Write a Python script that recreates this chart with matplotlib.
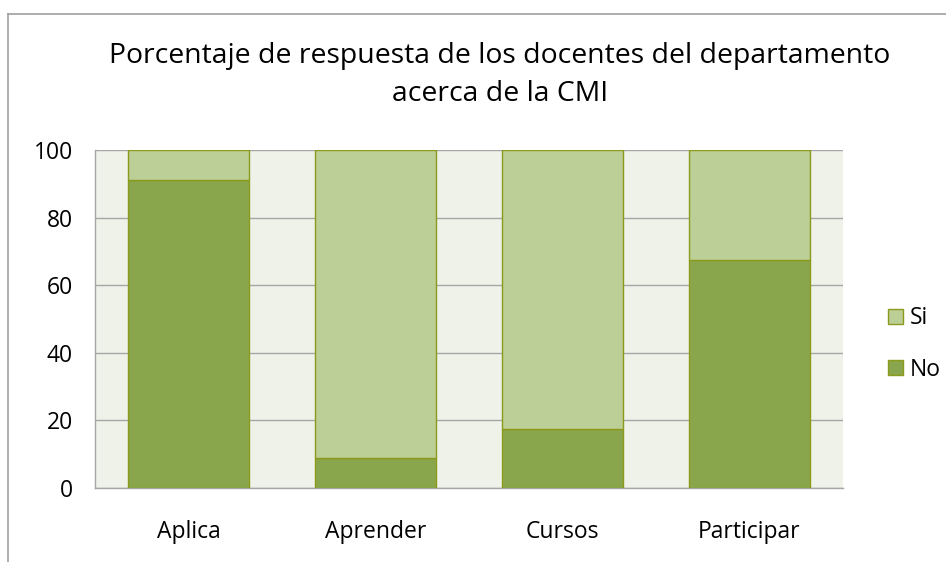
import matplotlib
matplotlib.use("Agg")
import matplotlib.pyplot as plt
from matplotlib.lines import Line2D
from matplotlib.patches import Patch

# data
categories = ["Aplica", "Aprender", "Cursos", "Participar"]
no_vals = [91.2, 8.8, 17.6, 67.6]
si_vals = [100 - v for v in no_vals]
yticks = [0, 20, 40, 60, 80, 100]

plt.rcParams['font.family'] = ['Open Sans', 'DejaVu Sans']

dark = "#8AA64D"
light = "#BBCF97"
edge = "#8C9A1C"
grid = "#A6A6A6"

fig = plt.figure(figsize=(9.46, 5.62), dpi=100)
ax = fig.add_axes([95 / 946, 1 - 488 / 562, 748 / 946, 338 / 562])
ax.set_facecolor("#EFF2E9")

x = list(range(len(categories)))
ax.bar(x, no_vals, width=0.645, color=dark, edgecolor=edge, linewidth=1, zorder=3, label="No")
ax.bar(x, si_vals, width=0.645, bottom=no_vals, color=light, edgecolor=edge, linewidth=1, zorder=3, label="Si")

ax.set_xlim(-0.5, len(categories) - 0.5)
ax.set_ylim(0, 100)
ax.set_yticks(yticks)
ax.set_xticks(x)
ax.set_xticklabels(categories, fontsize=16.5)
ax.tick_params(axis='y', labelsize=16.5, length=0, pad=16)
ax.tick_params(axis='x', length=0, pad=23)
ax.yaxis.grid(True, color=grid, linewidth=1, zorder=0)
for s in ["top", "right"]:
    ax.spines[s].set_visible(False)
for s in ["left", "bottom"]:
    ax.spines[s].set_color(grid)
    ax.spines[s].set_linewidth(1)

handles = [Patch(facecolor=light, edgecolor=edge, label="Si"),
           Patch(facecolor=dark, edgecolor=edge, label="No")]
fig.legend(handles=handles, loc="center left", bbox_to_anchor=(888 / 946, 1 - 344 / 562),
           frameon=False, fontsize=16.5, handlelength=0.65, handleheight=0.65,
           handletextpad=0.3, labelspacing=1.2, borderpad=0, borderaxespad=0)

fig.text(500 / 946, 1 - 75 / 562,
         "Porcentaje de respuesta de los docentes del departamento\nacerca de la CMI",
         ha="center", va="center", fontsize=20.4, linespacing=1.5)

# outer chart border
fig.add_artist(Line2D([8 / 946, 1], [1 - 14 / 562, 1 - 14 / 562], color="#A0A0A0", linewidth=1.2))
fig.add_artist(Line2D([8 / 946, 8 / 946], [0, 1 - 14 / 562], color="#A0A0A0", linewidth=1.2))

fig.savefig("out.png", dpi=100)
